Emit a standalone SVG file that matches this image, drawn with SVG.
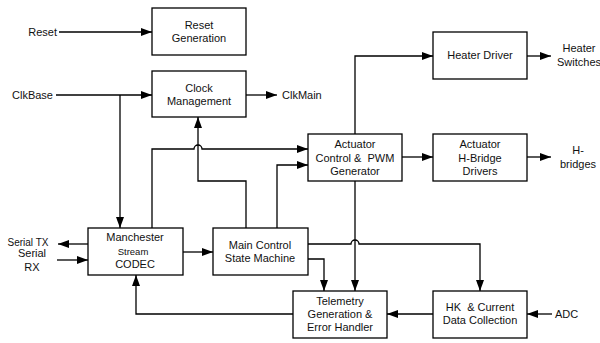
<svg xmlns="http://www.w3.org/2000/svg" width="600" height="343" viewBox="0 0 600 343">
<style>
.box{fill:#fff;stroke:#000;stroke-width:1.3}
.t{font-family:"Liberation Sans",Arial,sans-serif;font-size:11px;fill:#111;text-anchor:middle}
.l{text-anchor:start}
.r{text-anchor:end}
.c{fill:none;stroke:#000;stroke-width:1.3}
</style>
<defs>
<marker id="a" markerUnits="userSpaceOnUse" markerWidth="12" markerHeight="10" refX="11" refY="4" orient="auto">
<path d="M0,0 L11,4 L0,8 z" fill="#000"/>
</marker>
</defs>
<rect width="600" height="343" fill="#fff"/>
<g id="connectors">
<path class="c" d="M59,32 H152" marker-end="url(#a)"/>
<path class="c" d="M56,95 H152" marker-end="url(#a)"/>
<path class="c" d="M120,95 V228" marker-end="url(#a)"/>
<path class="c" d="M246,95 H277" marker-end="url(#a)"/>
<path class="c" d="M355,134 V56 H433" marker-end="url(#a)"/>
<path class="c" d="M527,56 H551" marker-end="url(#a)"/>
<path class="c" d="M402,157 H433" marker-end="url(#a)"/>
<path class="c" d="M527,157 H551" marker-end="url(#a)"/>
<path class="c" d="M152,228 V149 H194 a4,4 0 0 1 8,0 H308" marker-end="url(#a)"/>
<path class="c" d="M277,228 V165 H308" marker-end="url(#a)"/>
<path class="c" d="M246,228 V181 H198 V117" marker-end="url(#a)"/>
<path class="c" d="M88,244 H58" marker-end="url(#a)"/>
<path class="c" d="M57,260 H88" marker-end="url(#a)"/>
<path class="c" d="M183,252 H213" marker-end="url(#a)"/>
<path class="c" d="M355,181 V291" marker-end="url(#a)"/>
<path class="c" d="M308,244 H351 a4,4 0 0 1 8,0 H480 V291" marker-end="url(#a)"/>
<path class="c" d="M308,259 H324 V291" marker-end="url(#a)"/>
<path class="c" d="M433,314 H387" marker-end="url(#a)"/>
<path class="c" d="M552,314 H527" marker-end="url(#a)"/>
<path class="c" d="M293,314 H136 V275" marker-end="url(#a)"/>
</g>
<g id="reset-gen">
<rect class="box" x="152" y="8" width="94" height="47"/>
<text class="t" x="199" y="29">Reset</text>
<text class="t" x="199" y="42">Generation</text>
</g>
<g id="clock-mgmt">
<rect class="box" x="152" y="71" width="94" height="46"/>
<text class="t" x="199" y="92">Clock</text>
<text class="t" x="199" y="105">Management</text>
</g>
<g id="heater-driver">
<rect class="box" x="433" y="32" width="94" height="47"/>
<text class="t" x="480" y="59">Heater Driver</text>
</g>
<g id="actuator-ctrl">
<rect class="box" x="308" y="134" width="94" height="47"/>
<text class="t" x="355" y="148">Actuator</text>
<text class="t" x="355" y="162" xml:space="preserve">Control &amp;  PWM</text>
<text class="t" x="355" y="175">Generator</text>
</g>
<g id="hbridge">
<rect class="box" x="433" y="134" width="94" height="47"/>
<text class="t" x="480" y="148">Actuator</text>
<text class="t" x="480" y="162">H-Bridge</text>
<text class="t" x="480" y="175">Drivers</text>
</g>
<g id="manchester">
<rect class="box" x="88" y="228" width="95" height="47"/>
<text class="t" x="135" y="241">Manchester</text>
<text class="t" x="133" y="255" style="font-size:9.5px">Stream</text>
<text class="t" x="135" y="268">CODEC</text>
</g>
<g id="main-ctrl">
<rect class="box" x="213" y="228" width="95" height="47"/>
<text class="t" x="260" y="249">Main Control</text>
<text class="t" x="260" y="262">State Machine</text>
</g>
<g id="telemetry">
<rect class="box" x="293" y="291" width="94" height="47"/>
<text class="t" x="340" y="305">Telemetry</text>
<text class="t" x="340" y="318">Generation &amp;</text>
<text class="t" x="340" y="331">Error Handler</text>
</g>
<g id="hk">
<rect class="box" x="433" y="291" width="94" height="47"/>
<text class="t" x="480" y="311" xml:space="preserve">HK  &amp; Current</text>
<text class="t" x="480" y="324">Data Collection</text>
</g>
<g id="labels">
<text class="t r" x="57" y="36">Reset</text>
<text class="t r" x="53" y="99">ClkBase</text>
<text class="t l" x="282" y="99">ClkMain</text>
<text class="t" x="579" y="52">Heater</text>
<text class="t" x="579" y="66">Switches</text>
<text class="t" x="578" y="154">H-</text>
<text class="t" x="578" y="168">bridges</text>
<text class="t" x="28" y="246" style="font-size:10px">Serial TX</text>
<text class="t" x="32" y="257">Serial</text>
<text class="t" x="32" y="271">RX</text>
<text class="t l" x="555" y="318">ADC</text>
</g>
</svg>
